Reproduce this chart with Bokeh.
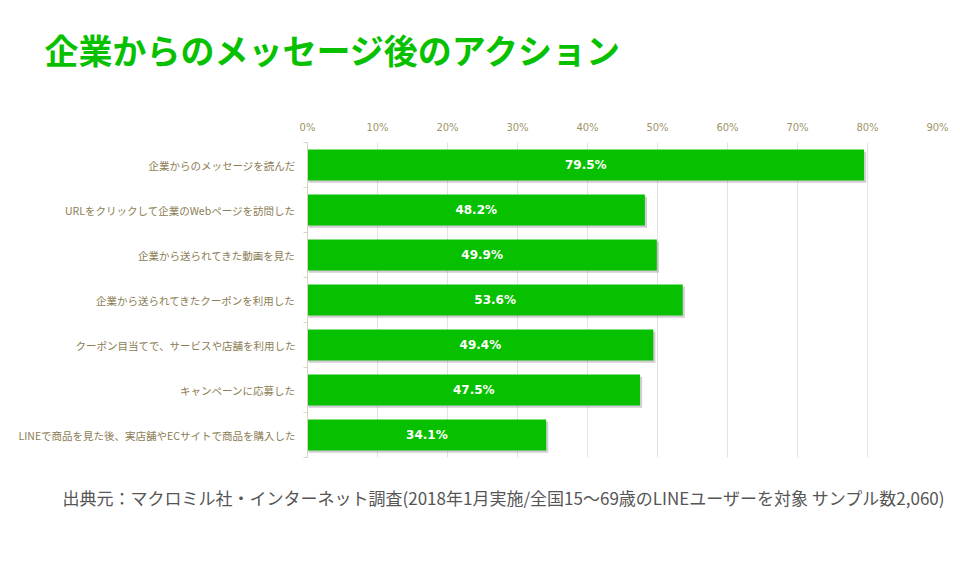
from bokeh.plotting import figure
from bokeh.layouts import column
from bokeh.models import Range1d, FixedTicker, ColumnDataSource
from bokeh.core.properties import value
from bokeh.embed import file_html
from bokeh.resources import INLINE

title_text = "企業からのメッセージ後のアクション"
categories = [
    "企業からのメッセージを読んだ",
    "URLをクリックして企業のWebページを訪問した",
    "企業から送られてきた動画を見た",
    "企業から送られてきたクーポンを利用した",
    "クーポン目当てで、サービスや店舗を利用した",
    "キャンペーンに応募した",
    "LINEで商品を見た後、実店舗やECサイトで商品を購入した",
]
values = [79.5, 48.2, 49.9, 53.6, 49.4, 47.5, 34.1]
x_ticks = [0, 10, 20, 30, 40, 50, 60, 70, 80, 90]
x_tick_labels = ["0%", "10%", "20%", "30%", "40%", "50%", "60%", "70%", "80%", "90%"]
source_text = "出典元：マクロミル社・インターネット調査(2018年1月実施/全国15～69歳のLINEユーザーを対象 サンプル数2,060)"

n = len(categories)
ypos = [n - 1 - i for i in range(n)]
bar_h = 0.69

GREEN = "#07c100"
LABEL_COLOR = "#8c7d55"
JP = "Noto Sans CJK JP"
W = 950


def text_fig(h):
    f = figure(width=W, height=h, output_backend="svg", toolbar_location=None,
               x_range=Range1d(0, W), y_range=Range1d(0, h),
               min_border=0, frame_align=False)
    f.axis.visible = False
    f.grid.visible = False
    f.outline_line_color = None
    return f


# title
TH = 100
pt = text_fig(TH)
pt.text(x=[44], y=[TH - 49], text=[title_text], text_color=GREEN,
        text_font=value(JP), text_font_style="bold", text_font_size="34px",
        text_align="left", text_baseline="middle")

# main chart
p = figure(width=W, height=367, output_backend="svg", toolbar_location=None,
           x_range=Range1d(0, 90), y_range=Range1d(-0.5, n - 0.5),
           x_axis_location="above", frame_align=False,
           min_border_left=307, min_border_right=13, min_border_top=42, min_border_bottom=10)
p.outline_line_color = None
p.background_fill_color = "white"
p.border_fill_color = "white"

p.xgrid.ticker = FixedTicker(ticks=x_ticks)
p.xgrid.grid_line_color = "#e2e2e2"
p.xgrid.grid_line_width = 1
p.ygrid.grid_line_color = None

xa = p.xaxis[0]
xa.ticker = FixedTicker(ticks=x_ticks)
xa.major_label_overrides = {t: l for t, l in zip(x_ticks, x_tick_labels)}
xa.axis_line_color = None
xa.major_tick_line_color = None
xa.minor_tick_line_color = None
xa.major_tick_out = 0
xa.minor_tick_out = 0
xa.major_label_text_color = "#a09468"
xa.major_label_text_font = "DejaVu Sans"
xa.major_label_text_font_size = "10px"
xa.major_label_standoff = 10

ya = p.yaxis[0]
bounds = [y - 0.5 for y in ypos] + [n - 0.5]
ya.ticker = FixedTicker(ticks=ypos, minor_ticks=bounds)
ya.major_label_overrides = {y: c for y, c in zip(ypos, categories)}
ya.axis_line_color = "#d9d2bd"
ya.major_tick_line_color = None
ya.major_tick_out = 4
ya.minor_tick_line_color = "#d9d2bd"
ya.minor_tick_in = 0
ya.minor_tick_out = 4
ya.major_label_text_color = LABEL_COLOR
ya.major_label_text_font = JP
ya.major_label_text_font_size = "10.5px"
ya.major_label_standoff = 8

p.hbar(y=[y - 0.05 for y in ypos], left=0.15, right=[v + 0.3 for v in values], height=bar_h,
       fill_color="#7a7085", fill_alpha=0.35, line_color=None)
src = ColumnDataSource(dict(y=ypos, v=values, mid=[v / 2 for v in values],
                            lab=[f"{v:.1f}%" for v in values]))
p.hbar(y="y", left=0, right="v", height=bar_h, source=src, fill_color=GREEN, line_color=None)
p.text(x="mid", y="y", text="lab", source=src, text_color="white",
       text_font=value("DejaVu Sans"), text_font_style="bold", text_font_size="12px",
       text_align="center", text_baseline="middle")

# source footnote
FH = 60
pf = text_fig(FH)
pf.text(x=[62], y=[FH - 30], text=[source_text], text_color="#555555",
        text_font=value(JP), text_font_size="17px",
        text_align="left", text_baseline="middle")

layout = column(pt, p, pf, spacing=0)
open("out.html", "w").write(file_html(layout, INLINE))
